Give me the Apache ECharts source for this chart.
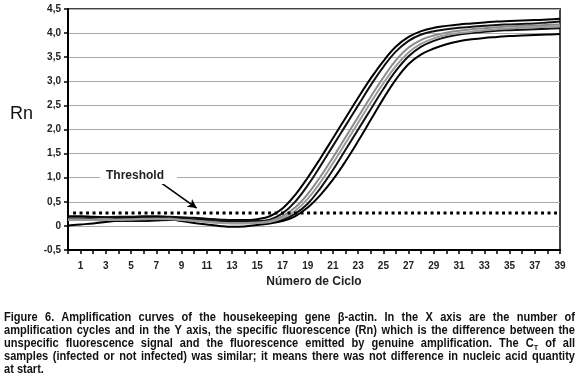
<!DOCTYPE html>
<html>
<head>
<meta charset="utf-8">
<script src="https://cdn.jsdelivr.net/npm/echarts@6/dist/echarts.min.js"></script>
<style>
    body { margin: 0; background: #fff; }
    #wrap { position: relative; width: 579px; height: 376px; overflow: hidden; }
    #container { position: absolute; left: 0; top: 0; width: 579px; height: 376px; }
    #caption {
        position: absolute; left: 4px; top: 311px; width: 620px;
        transform: scaleX(0.921); transform-origin: 0 0;
        font-family: "Liberation Sans", Arial, sans-serif;
        font-weight: bold; font-size: 12px; line-height: 13px; color: #111;
    }
    #caption div { white-space: nowrap; text-align: justify; text-align-last: justify; }
    #caption div.last { text-align-last: left; }
    sub { font-size: 8px; line-height: 0; }
</style>
</head>
<body>
<div id="wrap">
    <div id="container"></div>
    <div id="caption">
        <div>Figure 6. Amplification curves of the housekeeping gene β-actin. In the X axis are the number of</div>
        <div>amplification cycles and in the Y axis, the specific fluorescence (Rn) which is the difference between the</div>
        <div>unspecific fluorescence signal and the fluorescence emitted by genuine amplification. The C<sub>T</sub> of all</div>
        <div>samples (infected or not infected) was similar; it means there was not difference in nucleic acid quantity</div>
        <div class="last">at start.</div>
    </div>
</div>
<script>
var cycles = [];
for (var i = 0; i <= 39; i++) cycles.push(i);

// Rn por muestra (ciclo 0..39)
var muestraA = [0.20,0.20,0.19,0.18,0.17,0.17,0.16,0.16,0.15,0.15,0.14,0.14,0.13,0.12,0.12,0.14,0.20,0.36,0.64,1.00,1.40,1.82,2.24,2.66,3.06,3.42,3.72,3.92,4.04,4.11,4.15,4.18,4.20,4.22,4.24,4.25,4.26,4.27,4.28,4.30];
var muestraB = [0.16,0.16,0.17,0.18,0.19,0.19,0.20,0.20,0.19,0.18,0.17,0.15,0.13,0.11,0.10,0.10,0.13,0.26,0.50,0.84,1.24,1.66,2.08,2.50,2.92,3.30,3.62,3.84,3.97,4.04,4.08,4.11,4.13,4.15,4.17,4.18,4.19,4.20,4.22,4.24];
var muestraC = [0.14,0.14,0.13,0.12,0.12,0.13,0.14,0.15,0.15,0.13,0.11,0.09,0.07,0.06,0.06,0.07,0.10,0.20,0.38,0.66,1.02,1.42,1.84,2.26,2.68,3.08,3.44,3.70,3.86,3.95,4.01,4.05,4.08,4.10,4.12,4.14,4.15,4.16,4.17,4.18];
var muestraD = [0.12,0.12,0.12,0.12,0.13,0.14,0.15,0.15,0.14,0.12,0.10,0.08,0.06,0.05,0.05,0.06,0.08,0.16,0.31,0.56,0.90,1.30,1.72,2.14,2.56,2.96,3.32,3.60,3.78,3.89,3.96,4.00,4.03,4.06,4.08,4.10,4.11,4.12,4.13,4.14];
var muestraE = [0.13,0.13,0.12,0.11,0.10,0.10,0.10,0.11,0.12,0.12,0.11,0.10,0.09,0.08,0.07,0.07,0.08,0.13,0.25,0.46,0.78,1.16,1.58,2.00,2.42,2.84,3.22,3.52,3.72,3.84,3.92,3.97,4.00,4.03,4.05,4.06,4.07,4.08,4.09,4.10];
var muestraF = [0.01,0.03,0.05,0.08,0.11,0.14,0.17,0.18,0.15,0.10,0.06,0.03,0.00,-0.02,-0.01,0.02,0.05,0.10,0.20,0.38,0.64,0.96,1.34,1.76,2.20,2.64,3.04,3.36,3.56,3.68,3.77,3.83,3.87,3.90,3.92,3.94,3.95,3.96,3.97,3.98];
var threshold = 0.27;
var flecha = [[7.3, 0.91], [10.2, 0.37]];

function pares(vals) {
    return cycles.map(function (c, i) { return [c, vals[i]]; });
}
function curva(vals, color) {
    return {
        type: 'line',
        data: pares(vals),
        smooth: 0.4,
        symbol: 'none',
        lineStyle: { color: color, width: 2 },
        z: 3
    };
}

var myChart = echarts.init(document.getElementById('container'));
var font = 'Liberation Sans, Arial, sans-serif';
var option = {
    animation: false,
    textStyle: { fontFamily: font },
    grid: {
        left: 68, right: 19, top: 9, bottom: 126,
        show: true, borderColor: '#444', borderWidth: 2
    },
    xAxis: {
        type: 'value',
        min: 0, max: 39, interval: 1,
        name: 'Número de Ciclo',
        nameLocation: 'middle',
        nameGap: 26,
        nameTextStyle: { fontSize: 12, fontWeight: 'bold', color: '#222', fontFamily: font },
        axisLine: { onZero: false, lineStyle: { color: '#000', width: 2 } },
        axisTick: { length: 4, lineStyle: { color: '#000', width: 1.5 } },
        axisLabel: {
            margin: 11, fontSize: 10, fontWeight: 'bold', color: '#222', fontFamily: font,
            formatter: function (v) { return v % 2 === 1 ? String(v) : ''; }
        },
        splitLine: { show: false }
    },
    yAxis: {
        type: 'value',
        min: -0.5, max: 4.5, interval: 0.5,
        axisLine: { onZero: false, lineStyle: { color: '#000', width: 2 } },
        axisTick: { length: 4, lineStyle: { color: '#000', width: 1.5 } },
        axisLabel: {
            margin: 7, fontSize: 10, fontWeight: 'bold', color: '#222', fontFamily: font,
            formatter: function (v) { return v === 0 ? '0' : v.toFixed(1).replace('.', ','); }
        },
        splitLine: { lineStyle: { color: '#aaa', width: 1 } }
    },
    graphic: [
        {
            type: 'text', left: 10, top: 105,
            style: { text: 'Rn', fontSize: 18, fill: '#111', fontFamily: font }
        },
        {
            type: 'text', left: 100, top: 168, z: 10,
            style: {
                text: 'Threshold', fontSize: 12, fontWeight: 'bold', fill: '#222', fontFamily: font,
                backgroundColor: '#fff', padding: [2, 13, 2, 6]
            }
        }
    ],
    series: [
        curva(muestraA, '#000'),
        curva(muestraB, '#111'),
        curva(muestraE, '#111'),
        curva(muestraF, '#000'),
        curva(muestraC, '#8a8a8a'),
        curva(muestraD, '#9a9a9a'),
        {
            type: 'line',
            data: [[0.4, threshold], [39, threshold]],
            symbol: 'none',
            lineStyle: { color: '#000', width: 3, type: [3, 3.5] },
            z: 4,
            markLine: {
                silent: true,
                symbol: ['none', 'arrow'],
                symbolSize: [7, 9],
                label: { show: false },
                lineStyle: { color: '#000', width: 1.6, type: 'solid' },
                data: [[{ coord: flecha[0] }, { coord: flecha[1] }]]
            }
        }
    ]
};
myChart.setOption(option);
</script>
</body>
</html>
